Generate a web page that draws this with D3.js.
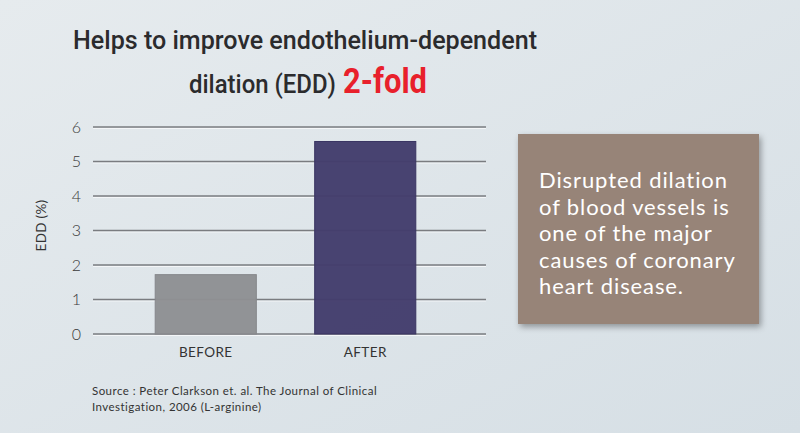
<!DOCTYPE html>
<html>
<head>
<meta charset="utf-8">
<script src="https://cdn.jsdelivr.net/npm/d3@7"></script>
<style>
  html, body { margin: 0; padding: 0; }
  body { width: 800px; height: 433px; overflow: hidden; }
  svg { display: block; }
</style>
</head>
<body>
<div id="chart"></div>
<script>
// chart values
var categories = ["BEFORE", "AFTER"];
var eddValues = [1.72, 5.58];
var yTicks = [0, 1, 2, 3, 4, 5, 6];
var titleLines = ["Helps to improve endothelium-dependent", "dilation (EDD)"];
var titleHighlight = "2-fold";
var boxLines = ["Disrupted dilation", "of blood vessels is", "one of the major", "causes of coronary", "heart disease."];
var sourceLines = ["Source : Peter Clarkson et. al. The Journal of Clinical", "Investigation, 2006 (L-arginine)"];

var W = 800, H = 433;
var margin = {top: 127, left: 93, right: 314, bottom: 99};
var width = W - margin.left - margin.right,
    height = H - margin.top - margin.bottom;

var bodyFont = "Lato, 'Open Sans', sans-serif";
var titleFont = "Roboto, 'Open Sans', sans-serif";

var svg = d3.select("#chart").append("svg")
    .attr("width", W)
    .attr("height", H);

// background gradient
var defs = svg.append("defs");
var bg = defs.append("linearGradient").attr("id", "bg")
    .attr("x1", "0").attr("y1", "0").attr("x2", "1").attr("y2", "1");
bg.append("stop").attr("offset", "0").attr("stop-color", "#e6ebee");
bg.append("stop").attr("offset", "1").attr("stop-color", "#d6dfe5");
var sh = defs.append("filter").attr("id", "shadow")
    .attr("x", "-10%").attr("y", "-10%").attr("width", "125%").attr("height", "125%");
sh.append("feDropShadow").attr("dx", 2).attr("dy", 3).attr("stdDeviation", 3)
    .attr("flood-color", "#000").attr("flood-opacity", 0.35);

svg.append("rect").attr("width", W).attr("height", H).attr("fill", "url(#bg)");

// title
svg.append("text")
    .attr("x", 73).attr("y", 49)
    .attr("textLength", 464).attr("lengthAdjust", "spacingAndGlyphs")
    .style("font-family", titleFont).style("font-size", "26px")
    .style("font-weight", "500")
    .attr("fill", "#2b2b2d")
    .text(titleLines[0]);
svg.append("text")
    .attr("x", 189).attr("y", 93)
    .attr("textLength", 147).attr("lengthAdjust", "spacingAndGlyphs")
    .style("font-family", titleFont).style("font-size", "26px")
    .style("font-weight", "500")
    .attr("fill", "#2b2b2d")
    .text(titleLines[1]);
svg.append("text")
    .attr("x", 343).attr("y", 93)
    .attr("textLength", 84).attr("lengthAdjust", "spacingAndGlyphs")
    .style("font-family", titleFont).style("font-size", "35px")
    .style("font-weight", "bold")
    .attr("fill", "#e8202b")
    .text(titleHighlight);

var g = svg.append("g")
    .attr("transform", "translate(" + margin.left + "," + margin.top + ")");

// scales
var x = d3.scaleBand()
    .domain(categories)
    .range([0, 385])
    .paddingInner(0.366)
    .paddingOuter(0.39);
var y = d3.scaleLinear()
    .domain([0, 6])
    .range([height, 0]);

// grid lines with light highlight
var grid = g.append("g");
grid.selectAll(".hl").data(yTicks).enter().append("line")
    .attr("x1", 0).attr("x2", width)
    .attr("y1", function(d) { return y(d) + 1.5; })
    .attr("y2", function(d) { return y(d) + 1.5; })
    .attr("stroke", "#f4f6f8").attr("stroke-width", 1);
grid.selectAll(".gl").data(yTicks).enter().append("line")
    .attr("x1", 0).attr("x2", width)
    .attr("y1", function(d) { return y(d); })
    .attr("y2", function(d) { return y(d); })
    .attr("stroke", "#7a7c80").attr("stroke-width", 1.3);

// bars
var barColors = ["#8e8f93", "#433d6c"];
g.selectAll(".bar")
    .data(eddValues)
  .enter().append("rect")
    .attr("class", "bar")
    .attr("x", function(d, i) { return x(categories[i]); })
    .attr("width", x.bandwidth())
    .attr("y", function(d) { return y(d); })
    .attr("height", function(d) { return height - y(d); })
    .attr("fill", function(d, i) { return barColors[i]; })
    .attr("fill-opacity", 0.97)
    .attr("stroke", function(d, i) { return i ? "#3a3562" : "#85868a"; })
    .attr("stroke-width", 1);

// y axis
var yAxis = g.append("g")
    .call(d3.axisLeft(y).tickValues(yTicks).tickFormat(d3.format("d")).tickSize(0).tickPadding(12));
yAxis.select(".domain").remove();
yAxis.selectAll("text")
    .style("font-family", bodyFont)
    .style("font-size", "16px").style("font-weight", "300")
    .attr("fill", "#3a3a3a");

g.append("text")
    .attr("transform", "translate(-47," + (height / 2 - 5) + ") rotate(-90)")
    .attr("text-anchor", "middle")
    .style("font-family", bodyFont)
    .style("font-size", "13.5px")
    .style("letter-spacing", "0.3px")
    .attr("fill", "#333")
    .text("EDD (%)");

// x axis
var xAxis = g.append("g")
    .attr("transform", "translate(0," + height + ")")
    .call(d3.axisBottom(x).tickSize(0).tickPadding(13));
xAxis.select(".domain").remove();
xAxis.selectAll("text")
    .style("font-family", bodyFont)
    .style("font-size", "13.5px")
    .style("letter-spacing", "0.4px")
    .attr("fill", "#333");

// side box
svg.append("rect")
    .attr("x", 518).attr("y", 134).attr("width", 241).attr("height", 190)
    .attr("fill", "#978478")
    .attr("filter", "url(#shadow)");
svg.append("g").selectAll("text")
    .data(boxLines)
  .enter().append("text")
    .attr("x", 539)
    .attr("y", function(d, i) { return 188 + i * 26.5; })
    .style("font-family", bodyFont)
    .style("font-size", "22px")
    .style("letter-spacing", "0.9px")
    .attr("fill", "#ffffff")
    .text(function(d) { return d; });

// source
svg.append("g").selectAll("text")
    .data(sourceLines)
  .enter().append("text")
    .attr("x", 92)
    .attr("y", function(d, i) { return 395 + i * 16; })
    .style("font-family", bodyFont)
    .style("font-size", "11.5px")
    .style("letter-spacing", "0.45px")
    .attr("fill", "#333")
    .text(function(d) { return d; });
</script>
</body>
</html>
